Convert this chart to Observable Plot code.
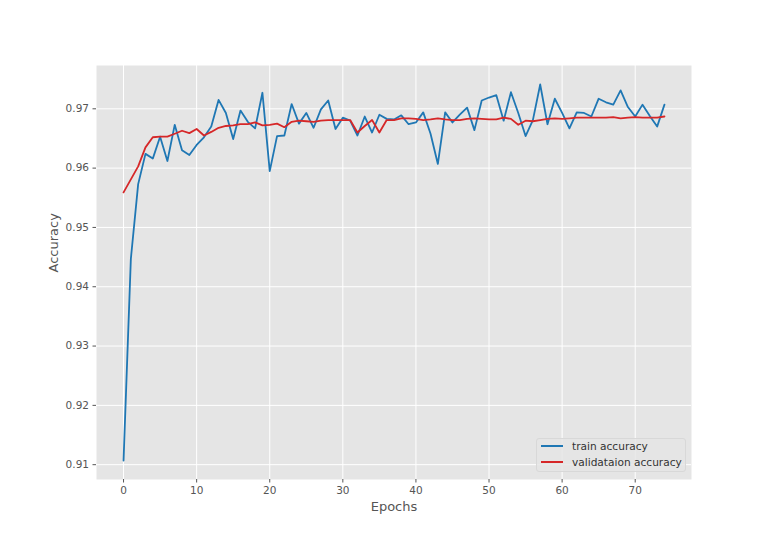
<!DOCTYPE html>
<html>
<head>
<meta charset="utf-8">
<script src="https://cdn.jsdelivr.net/npm/d3@7"></script>
<script src="https://cdn.jsdelivr.net/npm/@observablehq/plot@0.6"></script>
<style>
  body { margin: 0; background: #fff; }
  #wrap { position: relative; width: 768px; height: 538px; font-family: "DejaVu Sans", sans-serif; }
  #legend { position: absolute; left: 536px; top: 438px; width: 150px; height: 34px;
    background: rgba(229,229,229,0.8); border: 1px solid #d8d8d8; border-radius: 3px; box-sizing: border-box;
    font-size: 10.6px; color: #333; }
  .item { position: absolute; left: 4px; display: flex; align-items: center; }
  .sw { width: 22px; height: 2px; margin-right: 9px; }
</style>
</head>
<body>
<div id="wrap"></div>
<script>
const epochs = d3.range(75);
const trainAccuracy = [
  0.9107, 0.9447, 0.9573, 0.9624, 0.9616, 0.9653, 0.9612, 0.9673, 0.9630, 0.9622,
  0.9639, 0.9652, 0.9670, 0.9715, 0.9693, 0.9649, 0.9697, 0.9678, 0.9667, 0.9727,
  0.9595, 0.9654, 0.9655, 0.9708, 0.9675, 0.9693, 0.9668, 0.9699, 0.9714, 0.9666,
  0.9685, 0.9680, 0.9655, 0.9687, 0.9660, 0.9690, 0.9683, 0.9682, 0.9689, 0.9674,
  0.9677, 0.9694, 0.9658, 0.9607, 0.9694, 0.9677, 0.9690, 0.9702, 0.9664, 0.9714,
  0.9719, 0.9723, 0.9680, 0.9728, 0.9693, 0.9654, 0.9681, 0.9741, 0.9674, 0.9717,
  0.9693, 0.9667, 0.9694, 0.9693, 0.9687, 0.9717, 0.9711, 0.9707, 0.9731, 0.9703,
  0.9687, 0.9707, 0.9688, 0.9670, 0.9707
];
const validationAccuracy = [
  0.9559, 0.9581, 0.9603, 0.9635, 0.9652, 0.9653, 0.9653, 0.9658, 0.9663, 0.9659,
  0.9666, 0.9655, 0.9661, 0.9668, 0.9671, 0.9672, 0.9674, 0.9674, 0.9677, 0.9672,
  0.9673, 0.9675, 0.9669, 0.9678, 0.9680, 0.9679, 0.9678, 0.9680, 0.9681, 0.9681,
  0.9681, 0.9681, 0.9660, 0.9671, 0.9681, 0.9660, 0.9681, 0.9681, 0.9684, 0.9684,
  0.9683, 0.9681, 0.9682, 0.9684, 0.9682, 0.9681, 0.9681, 0.9683, 0.9684, 0.9683,
  0.9682, 0.9682, 0.9685, 0.9683, 0.9673, 0.9680, 0.9679, 0.9681, 0.9683, 0.9684,
  0.9683, 0.9684, 0.9685, 0.9685, 0.9685, 0.9685, 0.9685, 0.9686, 0.9684, 0.9685,
  0.9686, 0.9685, 0.9685, 0.9685, 0.9687
];
const xTicks = [0, 10, 20, 30, 40, 50, 60, 70];
const yTicks = [0.91, 0.92, 0.93, 0.94, 0.95, 0.96, 0.97];
const seriesNames = ["train accuracy", "validataion accuracy"];
const seriesColors = ["#1f77b4", "#d62728"];

const train = epochs.map((e, i) => ({epoch: e, value: trainAccuracy[i]}));
const val = epochs.map((e, i) => ({epoch: e, value: validationAccuracy[i]}));

const chart = Plot.plot({
  width: 768,
  height: 538,
  marginLeft: 96,
  marginRight: 77,
  marginTop: 65,
  marginBottom: 59,
  style: {fontFamily: "DejaVu Sans, sans-serif", fontSize: "10px", color: "#555", background: "#fff"},
  x: {domain: [-3.7, 77.7], ticks: xTicks, tickSize: 3.5, tickPadding: 4, label: null},
  y: {domain: [0.9075, 0.9773], ticks: yTicks, tickSize: 3.5, tickPadding: 4, tickFormat: d3.format(".2f"), label: null},
  marks: [
    Plot.frame({fill: "#E5E5E5", stroke: null}),
    Plot.gridX(xTicks, {stroke: "#fff", strokeOpacity: 1, strokeWidth: 1}),
    Plot.gridY(yTicks, {stroke: "#fff", strokeOpacity: 1, strokeWidth: 1}),
    Plot.axisX(xTicks, {tickSize: 3.5, tickPadding: 4, stroke: "#555", fill: "#555", fontSize: 10.5, label: null}),
    Plot.axisY(yTicks, {tickSize: 3.5, tickPadding: 4, stroke: "#555", fill: "#555", fontSize: 10.5, tickFormat: d3.format(".2f"), label: null}),
    Plot.line(train, {x: "epoch", y: "value", stroke: seriesColors[0], strokeWidth: 1.8}),
    Plot.line(val, {x: "epoch", y: "value", stroke: seriesColors[1], strokeWidth: 1.8}),
    Plot.text(["Epochs"], {frameAnchor: "bottom", dy: 22, fill: "#555", fontSize: 13, lineAnchor: "top"}),
    Plot.text(["Accuracy"], {frameAnchor: "left", dx: -43, rotate: -90, fill: "#555", fontSize: 13})
  ]
});

const wrap = document.getElementById("wrap");
wrap.appendChild(chart);
const legend = document.createElement("div");
legend.id = "legend";
seriesNames.forEach((name, i) => {
  const item = document.createElement("div");
  item.className = "item";
  item.style.top = (i === 0 ? 1 : 17) + "px";
  item.innerHTML = `<span class="sw" style="background:${seriesColors[i]}"></span><span>${name}</span>`;
  legend.appendChild(item);
});
wrap.appendChild(legend);
</script>
</body>
</html>
